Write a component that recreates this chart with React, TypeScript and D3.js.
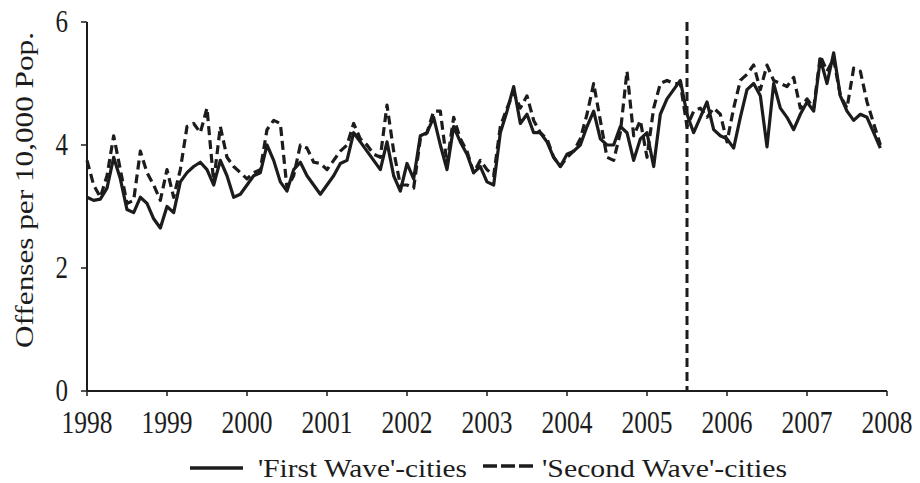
import React from "react";
import * as d3 from "d3";

const startYear = 1998;
const yearTicks = [1998, 1999, 2000, 2001, 2002, 2003, 2004, 2005, 2006, 2007, 2008];
const yTicks = [0, 2, 4, 6];
const cutoffYear = 2005.5;

// monthly values, Jan 1998 .. Dec 2007
const firstWave = [
  3.15, 3.1, 3.12, 3.3, 3.8, 3.45, 2.95, 2.9, 3.15, 3.05, 2.8, 2.65,
  3.0, 2.9, 3.4, 3.55, 3.65, 3.72, 3.6, 3.35, 3.75, 3.5, 3.15, 3.2,
  3.35, 3.5, 3.55, 4.0, 3.75, 3.4, 3.25, 3.6, 3.72, 3.5, 3.35, 3.2,
  3.35, 3.5, 3.7, 3.75, 4.2, 4.05, 3.9, 3.75, 3.6, 4.05, 3.5, 3.25,
  3.7, 3.45, 4.15, 4.2, 4.45, 4.0, 3.6, 4.3, 4.05, 3.85, 3.55, 3.65,
  3.4, 3.35, 4.2, 4.55, 4.95, 4.35, 4.5, 4.2, 4.2, 4.05, 3.8, 3.65,
  3.85, 3.9, 4.0, 4.3, 4.55, 4.1, 4.0, 4.0, 4.3, 4.2, 3.75, 4.1,
  4.2, 3.65, 4.5, 4.75, 4.9, 5.05, 4.5, 4.2, 4.45, 4.7, 4.25, 4.15,
  4.1, 3.95, 4.45, 4.9, 5.0, 4.8, 3.97, 5.0, 4.6, 4.45, 4.25, 4.5,
  4.7, 4.55, 5.4, 5.0, 5.5, 4.8, 4.55, 4.4, 4.5, 4.45, 4.2, 3.95,
];

const secondWave = [
  3.75, 3.35, 3.15, 3.5, 4.15, 3.6, 3.05, 3.1, 3.9, 3.55, 3.35, 3.1,
  3.6, 3.15, 3.6, 4.3, 4.35, 4.2, 4.6, 3.4, 4.3, 3.8, 3.65, 3.55,
  3.45, 3.55, 3.6, 4.25, 4.4, 4.35, 3.3, 3.5, 4.0, 3.95, 3.72, 3.7,
  3.6, 3.75, 3.9, 4.0, 4.35, 4.1, 4.0, 3.85, 3.8, 4.65, 3.9, 3.35,
  3.35, 3.3, 4.1, 4.2, 4.55, 4.55, 3.7, 4.45, 4.1, 3.9, 3.55, 3.75,
  3.6, 3.5, 4.3, 4.6, 4.85, 4.6, 4.8, 4.4, 4.2, 4.1, 3.8, 3.65,
  3.8, 3.9, 4.1, 4.5, 5.0, 4.4, 3.8, 3.75, 4.2, 5.2, 4.15, 4.4,
  3.8, 4.6, 5.0, 5.05, 5.0, 5.0, 4.3, 4.55, 4.6, 4.45, 4.6, 4.5,
  4.05, 4.6, 5.05, 5.15, 5.3, 4.9, 5.3, 5.05, 5.0, 4.95, 5.1, 4.6,
  4.75, 4.6, 5.45, 5.2, 5.4, 4.8, 4.6, 5.25, 5.2, 4.7, 4.35, 4.0,
];

const legendLabels = ["'First Wave'-cities", "'Second Wave'-cities"];
const yTitle = "Offenses per 10,000 Pop.";

const W = 920;
const H = 483;
const FONT = "'Liberation Serif', 'Times New Roman', serif";
const INK = "#1c1c1c";
const SY = 1.25;

export default function App() {
  const x = d3.scaleLinear().domain([1998, 2008]).range([87, 887]);
  const y = d3.scaleLinear().domain([0, 6]).range([391, 22]);

  const line = d3
    .line<number>()
    .x((_, i) => x(startYear + i / 12))
    .y((d) => y(d));

  return (
    <svg
      width={W}
      height={H}
      style={{ position: "absolute", left: 0, top: 0, background: "#fff" }}
    >
      <rect width={W} height={H} fill="#fff" />
      {/* series */}
      <path d={line(firstWave) || ""} fill="none" stroke={INK} strokeWidth={3.2} strokeLinejoin="round" />
      <path
        d={line(secondWave) || ""}
        fill="none"
        stroke={INK}
        strokeWidth={3.2}
        strokeDasharray="9,5"
        strokeLinejoin="round"
      />
      {/* cutoff line */}
      <line
        x1={x(cutoffYear)}
        x2={x(cutoffYear)}
        y1={y(6)}
        y2={y(0)}
        stroke={INK}
        strokeWidth={3}
        strokeDasharray="9,5"
      />
      {/* axes */}
      <line x1={x(1998)} x2={x(1998)} y1={y(6)} y2={y(0)} stroke={INK} strokeWidth={2} />
      <line x1={x(1998)} x2={x(2008)} y1={y(0)} y2={y(0)} stroke={INK} strokeWidth={2.2} />
      {yTicks.map((t) => (
        <g key={"y" + t}>
          <line x1={x(1998) - 6} x2={x(1998)} y1={y(t)} y2={y(t)} stroke={INK} strokeWidth={1.5} />
          <text
            transform={`translate(68,${y(t) + 10}) scale(1,${SY})`}
            textAnchor="end"
            fontFamily={FONT}
            fontSize={25}
            fill={INK}
          >
            {t}
          </text>
        </g>
      ))}
      {yearTicks.map((t) => (
        <g key={"x" + t}>
          <line x1={x(t)} x2={x(t)} y1={y(0)} y2={y(0) + 5} stroke={INK} strokeWidth={1.5} />
          <text
            transform={`translate(${x(t)},433) scale(1,${SY})`}
            textAnchor="middle"
            fontFamily={FONT}
            fontSize={25.5}
            fill={INK}
          >
            {t}
          </text>
        </g>
      ))}
      {/* y title */}
      <text
        transform={`translate(33,190) rotate(-90) scale(${SY},1)`}
        textAnchor="middle"
        fontFamily={FONT}
        fontSize={25}
        fill={INK}
      >
        {yTitle}
      </text>
      {/* legend */}
      <line x1={190} x2={243} y1={468} y2={468} stroke={INK} strokeWidth={3.5} />
      <text x={258} y={477} fontFamily={FONT} fontSize={26} fill={INK} textLength={209} lengthAdjust="spacingAndGlyphs">
        {legendLabels[0]}
      </text>
      <line x1={483} x2={533} y1={466} y2={466} stroke={INK} strokeWidth={3.5} strokeDasharray="14,4" />
      <text x={542} y={477} fontFamily={FONT} fontSize={26} fill={INK} textLength={245} lengthAdjust="spacingAndGlyphs">
        {legendLabels[1]}
      </text>
    </svg>
  );
}
